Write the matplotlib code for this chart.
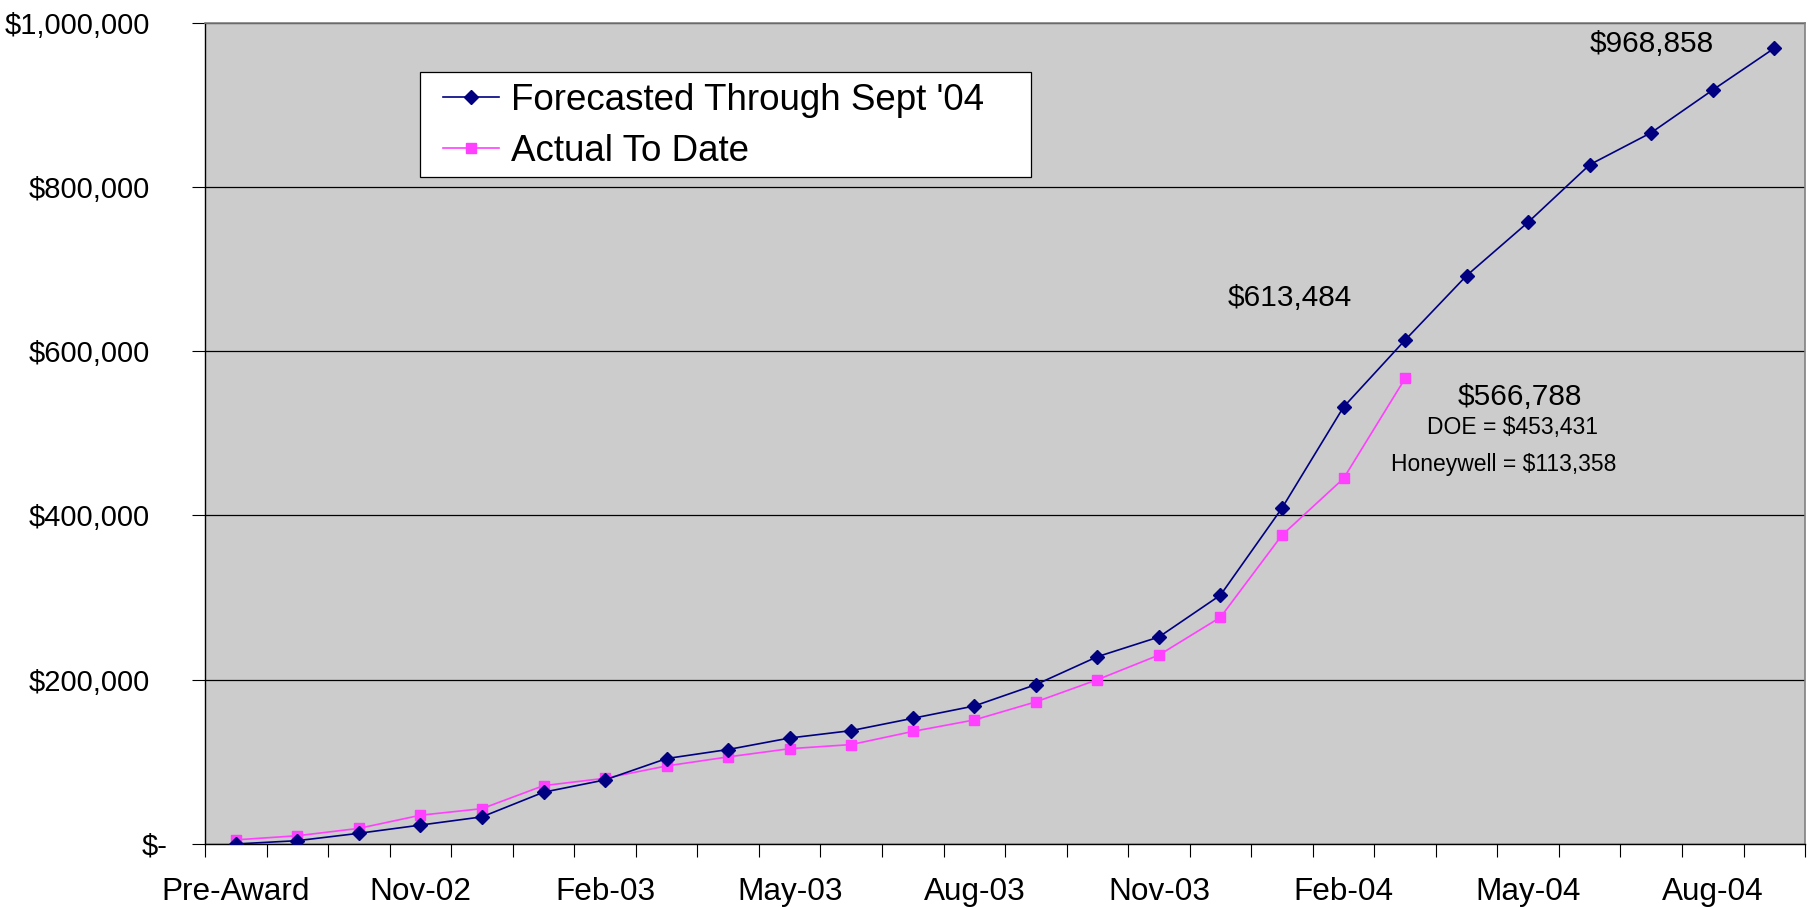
import matplotlib
matplotlib.use("Agg")
import matplotlib.pyplot as plt
from matplotlib.ticker import FixedLocator, FuncFormatter
from matplotlib.transforms import ScaledTranslation
from matplotlib.patches import Rectangle

plt.rcParams['font.family'] = ['Liberation Sans', 'DejaVu Sans']

# Monthly cumulative spending
months = ["Pre-Award", "Sep-02", "Oct-02", "Nov-02", "Dec-02", "Jan-03", "Feb-03",
          "Mar-03", "Apr-03", "May-03", "Jun-03", "Jul-03", "Aug-03", "Sep-03",
          "Oct-03", "Nov-03", "Dec-03", "Jan-04", "Feb-04", "Mar-04", "Apr-04",
          "May-04", "Jun-04", "Jul-04", "Aug-04", "Sep-04"]

forecast = [0, 4000, 13000, 23000, 33000, 63000, 78000, 104000, 115000, 129000,
            138000, 153000, 168000, 194000, 228000, 252000, 303000, 409000, 532000,
            613484, 692000, 757000, 827000, 866000, 918000, 968858]

actual = [5000, 10000, 19000, 35000, 43000, 71000, 80000, 95000, 106000, 116000,
          121000, 137000, 151000, 173000, 200000, 230000, 276000, 376000, 445000,
          566788]

doe_share = 453431
honeywell_share = 113358

y_ticks = [0, 200000, 400000, 600000, 800000, 1000000]

fig = plt.figure(figsize=(18.10, 9.07), dpi=100)
ax = fig.add_axes([0.1133, 0.0695, 0.8840, 0.9056])
ax.set_facecolor('#cccccc')

x_f = list(range(len(forecast)))
x_a = list(range(len(actual)))

ax.plot(x_f, forecast, color='#000080', lw=1.2, marker='D', markersize=7,
        markerfacecolor='#000080', markeredgecolor='#000080',
        label="Forecasted Through Sept '04", zorder=4)
ax.plot(x_a, actual, color='#ff40ff', lw=1.2, marker='s', markersize=7.5,
        markerfacecolor='#ff40ff', markeredgecolor='#ff40ff',
        label="Actual To Date", zorder=3)

ax.set_xlim(-0.5, len(months) - 0.5)
ax.set_ylim(0, 1000000)

# y axis: accounting-style dollar labels
ax.yaxis.set_major_locator(FixedLocator(y_ticks))
ax.yaxis.set_major_formatter(FuncFormatter(
    lambda v, p: "$-" if v == 0 else "${:,.0f}".format(v)))
ax.tick_params(axis='y', which='major', length=9.5, width=0.8, direction='out',
               pad=30, labelsize=21, color='black')
ax.grid(axis='y', color='black', lw=0.9)
ax.set_axisbelow(True)

# x axis: labels every third month, tick marks between categories
label_idx = list(range(0, len(months), 3))
ax.xaxis.set_major_locator(FixedLocator(label_idx))
ax.set_xticklabels([months[i] for i in label_idx])
ax.xaxis.set_minor_locator(FixedLocator([i - 0.5 for i in range(len(months) + 1)]))
ax.tick_params(axis='x', which='major', length=0, pad=23.5, labelsize=22.7)
ax.tick_params(axis='x', which='minor', length=9, width=0.8, direction='out',
               color='black')

for side in ('left', 'bottom'):
    ax.spines[side].set_color('black')
    ax.spines[side].set_linewidth(1.0)
for side in ('top', 'right'):
    ax.spines[side].set_color('#808080')
    ax.spines[side].set_linewidth(1.2)

fig.canvas.draw()
zero_label = ax.get_yticklabels()[0]
zero_label.set_transform(zero_label.get_transform()
                         + ScaledTranslation(17 / 100, 0, fig.dpi_scale_trans))

# value callouts
ax.text(23.0, 974000, "${:,}".format(forecast[-1]), fontsize=21.5,
        ha='center', va='center')
ax.text(17.13, 665000, "${:,}".format(forecast[19]), fontsize=21.5,
        ha='center', va='center')
ax.text(20.87, 544500, "${:,}".format(actual[-1]), fontsize=21.5,
        ha='center', va='center')
ax.text(20.74, 507000, "DOE = ${:,}".format(doe_share), fontsize=16.5,
        ha='center', va='center')
ax.text(20.61, 461500, "Honeywell = ${:,}".format(honeywell_share), fontsize=16.5,
        ha='center', va='center')

# legend with a plain rectangular box behind it
box = Rectangle((0.1344, 0.8121), 0.3819, 0.1274, transform=ax.transAxes,
                facecolor='white', edgecolor='black', lw=0.9, zorder=6)
ax.add_patch(box)
leg = ax.legend(loc='upper left', bbox_to_anchor=(0.1489, 0.926),
                bbox_transform=ax.transAxes, fontsize=26.5, frameon=False,
                borderpad=0, labelspacing=0.42, handlelength=1.5,
                handletextpad=0.33, borderaxespad=0)
leg.set_zorder(7)

fig.savefig("out.png", dpi=100, facecolor='white')
